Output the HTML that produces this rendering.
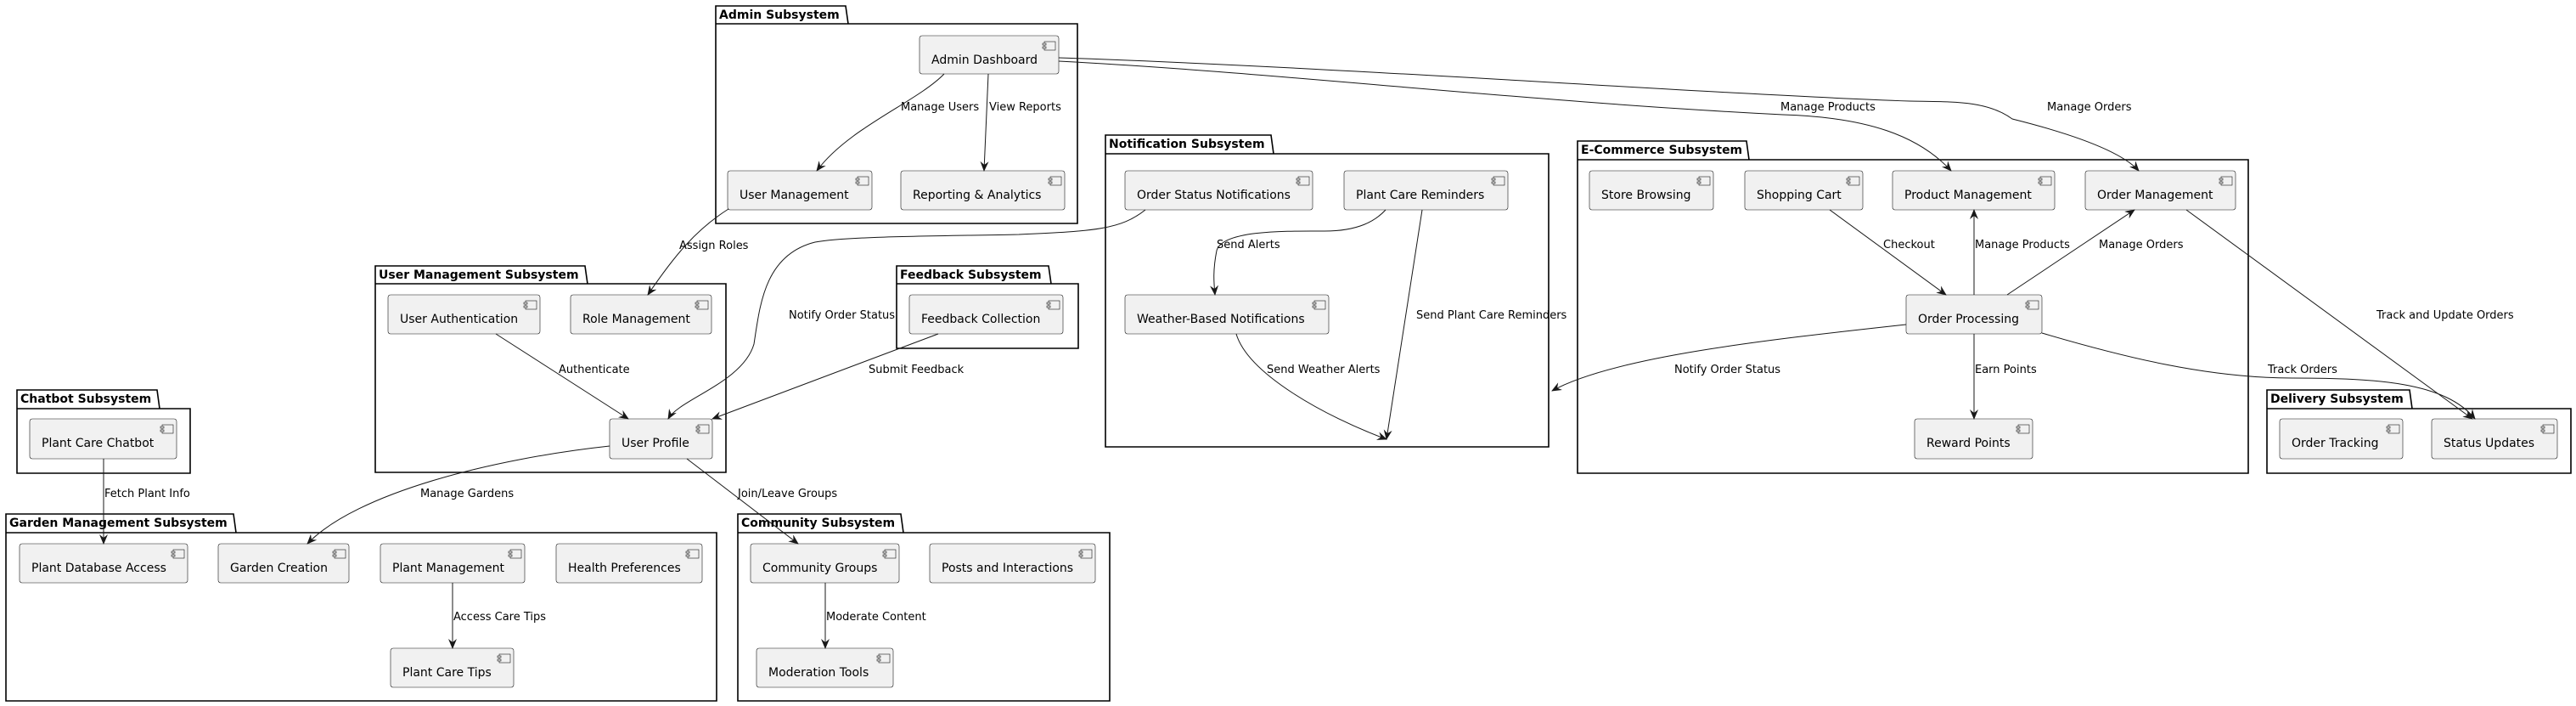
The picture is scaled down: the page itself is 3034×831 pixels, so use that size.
<!DOCTYPE html>
<html><head><meta charset="utf-8"><style>
html,body{margin:0;padding:0;background:#fff}
svg{display:block}
text{font-family:"DejaVu Sans","Liberation Sans",sans-serif;fill:#000}
.c{font-size:14px}
.l{font-size:13px}
.p{font-size:14px;font-weight:bold}
.box{fill:#F1F1F1;stroke:#181818;stroke-width:0.6}
.pk{fill:none;stroke:#000;stroke-width:1.6}
.e{fill:none;stroke:#181818;stroke-width:1}
</style></head><body>
<svg width="3034" height="831" viewBox="0 0 3034 831" xmlns="http://www.w3.org/2000/svg">
<defs>
<marker id="a" viewBox="0 0 12 10" refX="11" refY="5" markerWidth="12" markerHeight="10" markerUnits="userSpaceOnUse" orient="auto">
<path d="M0,0 L12,5 L0,10 L4,5 Z" fill="#181818"/>
</marker>
<g id="ic"><rect x="-17" y="7" width="13" height="10" fill="#F1F1F1" stroke="#181818" stroke-width="0.6"/><rect x="-19" y="9" width="4" height="2" fill="#F1F1F1" stroke="#181818" stroke-width="0.6"/><rect x="-19" y="13" width="4" height="2" fill="#F1F1F1" stroke="#181818" stroke-width="0.6"/></g>
</defs>

<!-- packages -->
<g class="pk">
<path d="M843,28 V7 H996 L999,28 M843,28 H1269 V263 H843 Z"/>
<path d="M442,334 V313 H689 L692,334 M442,334 H855 V556 H442 Z"/>
<path d="M1056,334 V313 H1235 L1238,334 M1056,334 H1270 V410 H1056 Z"/>
<path d="M20,481 V459 H185 L188,481 M20,481 H224 V557 H20 Z"/>
<path d="M7,627 V605 H275 L278,627 M7,627 H844 V825 H7 Z"/>
<path d="M869,627 V605 H1061 L1064,627 M869,627 H1307 V825 H869 Z"/>
<path d="M1302,181 V159 H1497 L1500,181 M1302,181 H1824 V526 H1302 Z"/>
<path d="M1858,188 V166 H2057 L2060,188 M1858,188 H2648 V557 H1858 Z"/>
<path d="M2670,481 V459 H2838 L2841,481 M2670,481 H3028 V557 H2670 Z"/>
</g>
<text class="p" x="847" y="22">Admin Subsystem</text>
<text class="p" x="446" y="328">User Management Subsystem</text>
<text class="p" x="1060" y="328">Feedback Subsystem</text>
<text class="p" x="24" y="474">Chatbot Subsystem</text>
<text class="p" x="11" y="620">Garden Management Subsystem</text>
<text class="p" x="873" y="620">Community Subsystem</text>
<text class="p" x="1306" y="174">Notification Subsystem</text>
<text class="p" x="1862" y="181">E-Commerce Subsystem</text>
<text class="p" x="2674" y="474">Delivery Subsystem</text>

<!-- components -->
<g>
<rect class="box" x="1083" y="42" width="164" height="45" rx="3"/><use href="#ic" x="1247" y="42"/><text class="c" x="1097" y="75">Admin Dashboard</text>
<rect class="box" x="857" y="201" width="170" height="46" rx="3"/><use href="#ic" x="1027" y="201"/><text class="c" x="871" y="234">User Management</text>
<rect class="box" x="1061" y="201" width="193" height="46" rx="3"/><use href="#ic" x="1254" y="201"/><text class="c" x="1075" y="234">Reporting &amp; Analytics</text>
<rect class="box" x="457" y="347" width="179" height="46" rx="3"/><use href="#ic" x="636" y="347"/><text class="c" x="471" y="380">User Authentication</text>
<rect class="box" x="672" y="347" width="166" height="46" rx="3"/><use href="#ic" x="838" y="347"/><text class="c" x="686" y="380">Role Management</text>
<rect class="box" x="1071" y="347" width="181" height="46" rx="3"/><use href="#ic" x="1252" y="347"/><text class="c" x="1085" y="380">Feedback Collection</text>
<rect class="box" x="718" y="493" width="121" height="47" rx="3"/><use href="#ic" x="839" y="493"/><text class="c" x="732" y="526">User Profile</text>
<rect class="box" x="35" y="493" width="173" height="47" rx="3"/><use href="#ic" x="208" y="493"/><text class="c" x="49" y="526">Plant Care Chatbot</text>
<rect class="box" x="23" y="640" width="198" height="46" rx="3"/><use href="#ic" x="221" y="640"/><text class="c" x="37" y="673">Plant Database Access</text>
<rect class="box" x="257" y="640" width="154" height="46" rx="3"/><use href="#ic" x="411" y="640"/><text class="c" x="271" y="673">Garden Creation</text>
<rect class="box" x="448" y="640" width="170" height="46" rx="3"/><use href="#ic" x="618" y="640"/><text class="c" x="462" y="673">Plant Management</text>
<rect class="box" x="655" y="640" width="172" height="46" rx="3"/><use href="#ic" x="827" y="640"/><text class="c" x="669" y="673">Health Preferences</text>
<rect class="box" x="460" y="763" width="145" height="46" rx="3"/><use href="#ic" x="605" y="763"/><text class="c" x="474" y="796">Plant Care Tips</text>
<rect class="box" x="884" y="640" width="175" height="46" rx="3"/><use href="#ic" x="1059" y="640"/><text class="c" x="898" y="673">Community Groups</text>
<rect class="box" x="1095" y="640" width="195" height="46" rx="3"/><use href="#ic" x="1290" y="640"/><text class="c" x="1109" y="673">Posts and Interactions</text>
<rect class="box" x="891" y="763" width="161" height="46" rx="3"/><use href="#ic" x="1052" y="763"/><text class="c" x="905" y="796">Moderation Tools</text>
<rect class="box" x="1325" y="201" width="221" height="46" rx="3"/><use href="#ic" x="1546" y="201"/><text class="c" x="1339" y="234">Order Status Notifications</text>
<rect class="box" x="1583" y="201" width="193" height="46" rx="3"/><use href="#ic" x="1776" y="201"/><text class="c" x="1597" y="234">Plant Care Reminders</text>
<rect class="box" x="1325" y="347" width="240" height="46" rx="3"/><use href="#ic" x="1565" y="347"/><text class="c" x="1339" y="380">Weather-Based Notifications</text>
<rect class="box" x="1872" y="201" width="146" height="46" rx="3"/><use href="#ic" x="2018" y="201"/><text class="c" x="1886" y="234">Store Browsing</text>
<rect class="box" x="2055" y="201" width="139" height="46" rx="3"/><use href="#ic" x="2194" y="201"/><text class="c" x="2069" y="234">Shopping Cart</text>
<rect class="box" x="2229" y="201" width="191" height="46" rx="3"/><use href="#ic" x="2420" y="201"/><text class="c" x="2243" y="234">Product Management</text>
<rect class="box" x="2456" y="201" width="177" height="46" rx="3"/><use href="#ic" x="2633" y="201"/><text class="c" x="2470" y="234">Order Management</text>
<rect class="box" x="2245" y="347" width="160" height="46" rx="3"/><use href="#ic" x="2405" y="347"/><text class="c" x="2259" y="380">Order Processing</text>
<rect class="box" x="2255" y="493" width="139" height="47" rx="3"/><use href="#ic" x="2394" y="493"/><text class="c" x="2269" y="526">Reward Points</text>
<rect class="box" x="2685" y="493" width="145" height="47" rx="3"/><use href="#ic" x="2830" y="493"/><text class="c" x="2699" y="526">Order Tracking</text>
<rect class="box" x="2864" y="493" width="148" height="47" rx="3"/><use href="#ic" x="3012" y="493"/><text class="c" x="2878" y="526">Status Updates</text>
</g>

<!-- edges -->
<g class="e" marker-end="url(#a)">
<path d="M1112,87 C1080,120 1000,150 962,201"/>
<path d="M1164,87 L1159,201"/>
<path d="M858,246 C820,270 795,300 763,347"/>
<path d="M1247,72 C1500,85 1800,120 2100,135 C2200,138 2260,160 2298,201"/>
<path d="M1247,68 C1600,80 2000,110 2249,119 C2300,120 2340,118 2370,140 C2450,160 2500,180 2519,201"/>
<path d="M1349,247 C1320,270 1290,272 1200,276 C1100,278 1000,278 960,285 C900,300 895,360 888,405 C875,450 800,470 787,493"/>
<path d="M584,393 L740,493"/>
<path d="M1105,393 L839,493"/>
<path d="M122,540 L122,640"/>
<path d="M718,525 C580,540 420,580 362,640"/>
<path d="M809,540 L940,640"/>
<path d="M533,686 L533,763"/>
<path d="M972,686 L972,763"/>
<path d="M1632,247 C1620,260 1600,272 1560,272 C1520,272 1440,270 1433,295 C1428,320 1430,335 1431,347"/>
<path d="M1675,247 L1633,517"/>
<path d="M1456,393 C1470,440 1560,490 1633,517"/>
<path d="M2155,247 L2292,347"/>
<path d="M2325,347 L2325,247"/>
<path d="M2364,347 L2514,247"/>
<path d="M2325,393 L2325,493"/>
<path d="M2245,382 C2080,400 1900,420 1828,460"/>
<path d="M2405,392 C2500,420 2600,445 2700,445 C2800,445 2880,450 2915,493"/>
<path d="M2575,247 L2912,493"/>
</g>

<!-- labels -->
<g class="l">
<text x="1061" y="130">Manage Users</text>
<text x="1165" y="130">View Reports</text>
<text x="800" y="293">Assign Roles</text>
<text x="2097" y="130">Manage Products</text>
<text x="2411" y="130">Manage Orders</text>
<text x="929" y="375">Notify Order Status</text>
<text x="658" y="439">Authenticate</text>
<text x="1023" y="439">Submit Feedback</text>
<text x="123" y="585">Fetch Plant Info</text>
<text x="495" y="585">Manage Gardens</text>
<text x="869" y="585">Join/Leave Groups</text>
<text x="534" y="730">Access Care Tips</text>
<text x="973" y="730">Moderate Content</text>
<text x="1433" y="292">Send Alerts</text>
<text x="1668" y="375">Send Plant Care Reminders</text>
<text x="1492" y="439">Send Weather Alerts</text>
<text x="2218" y="292">Checkout</text>
<text x="2326" y="292">Manage Products</text>
<text x="2472" y="292">Manage Orders</text>
<text x="2799" y="375">Track and Update Orders</text>
<text x="1972" y="439">Notify Order Status</text>
<text x="2326" y="439">Earn Points</text>
<text x="2671" y="439">Track Orders</text>
</g>
</svg>
</body></html>
